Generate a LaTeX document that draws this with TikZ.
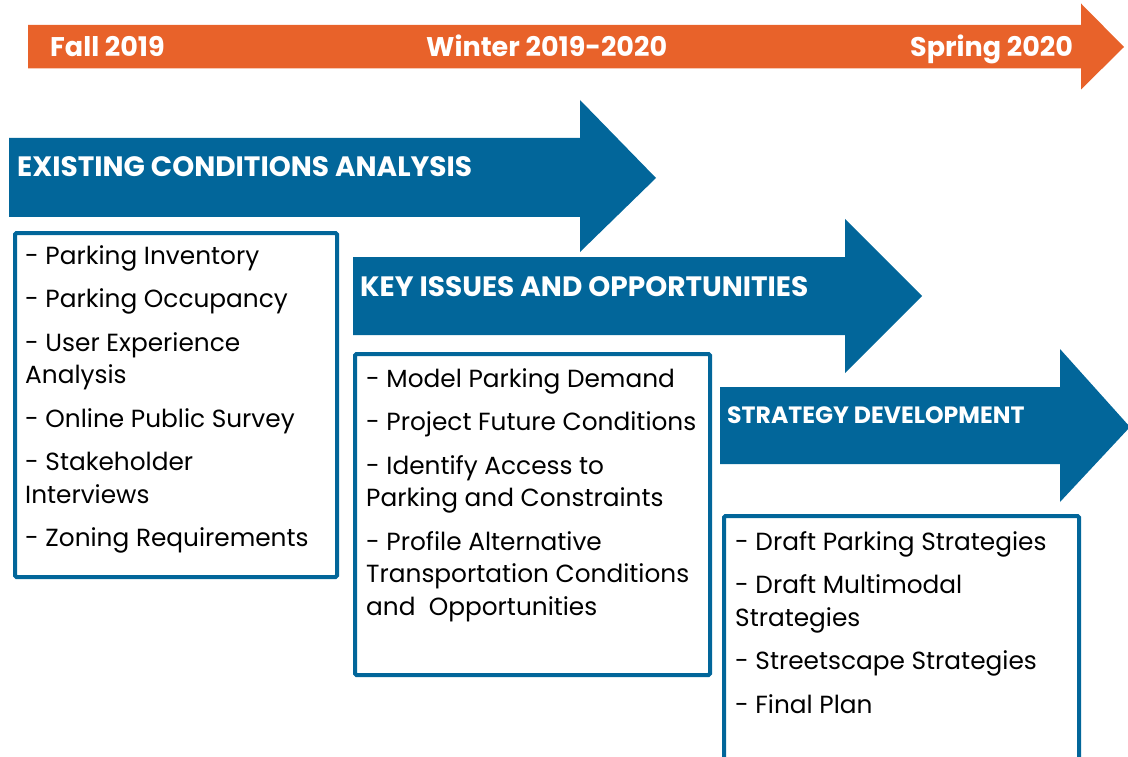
\documentclass[tikz,border=0pt]{standalone}
\usepackage{fontspec}
\setmainfont{Poppins}
\definecolor{timeorange}{RGB}{232,98,42}
\definecolor{phaseblue}{RGB}{2,102,154}
\begin{document}
\begin{tikzpicture}[x=1pt,y=-1pt,
  seasonlabel/.style={text=white, anchor=base west, inner sep=0pt,
    font=\bfseries\fontsize{27}{27}\selectfont},
  phaselabel/.style={text=white, anchor=base west, inner sep=0pt,
    font=\bfseries\fontsize{28}{28}\selectfont},
  tasklist/.style={anchor=north west, inner sep=0pt, align=left,
    font=\fontsize{24.8}{32.5}\selectfont},
  taskframe/.style={draw=phaseblue, line width=4pt, rounded corners=1.5pt},
]
\useasboundingbox (0,0) rectangle (1128,757);

% timeline arrow
\fill[timeorange] (28,25) -- (1081,25) -- (1081,3.5) -- (1124,47) -- (1081,89.5)
  -- (1081,68.5) -- (28,68.5) -- cycle;
\node[seasonlabel] (fall)   at (50,57)  {Fall 2019};
\node[seasonlabel] (winter) at (426,57) {Winter 2019-2020};
\node[seasonlabel] (spring) at (910,57) {Spring 2020};

% phase arrows
\fill[phaseblue] (9,138) -- (580,138) -- (580,100) -- (656,178) -- (580,252)
  -- (580,217) -- (9,217) -- cycle;
\fill[phaseblue] (353,257) -- (845,257) -- (845,219) -- (922,296) -- (845,373)
  -- (845,335) -- (353,335) -- cycle;
\fill[phaseblue] (720,387) -- (1060,387) -- (1060,349) -- (1130,427) -- (1060,502)
  -- (1060,464) -- (720,464) -- cycle;

\node[phaselabel] (existing) at (17,177) {EXISTING CONDITIONS ANALYSIS};
\node[phaselabel] (issues)   at (360,296) {KEY ISSUES AND OPPORTUNITIES};
\node[phaselabel, font=\bfseries\fontsize{23.6}{23.6}\selectfont] (strategy) at (727,423) {STRATEGY DEVELOPMENT};

% task boxes
\draw[taskframe] (15,233) rectangle (337,577);
\draw[taskframe] (355,354) rectangle (710,675);
\draw[taskframe] (724,516) rectangle (1079,770);

\node[tasklist] (tasksA) at (25,245) {%
  - Parking Inventory\\[11pt]
  - Parking Occupancy\\[11pt]
  - User Experience\\
  Analysis\\[11pt]
  - Online Public Survey\\[11pt]
  - Stakeholder\\
  Interviews\\[11pt]
  - Zoning Requirements};
\node[tasklist] (tasksB) at (366,368) {%
  - Model Parking Demand\\[11pt]
  - Project Future Conditions\\[11pt]
  - Identify Access to\\
  Parking and Constraints\\[11pt]
  - Profile Alternative\\
  Transportation Conditions\\
  and\ \ Opportunities};
\node[tasklist] (tasksC) at (735,531) {%
  - Draft Parking Strategies\\[11pt]
  - Draft Multimodal\\
  Strategies\\[11pt]
  - Streetscape Strategies\\[11pt]
  - Final Plan};
\end{tikzpicture}
\end{document}
